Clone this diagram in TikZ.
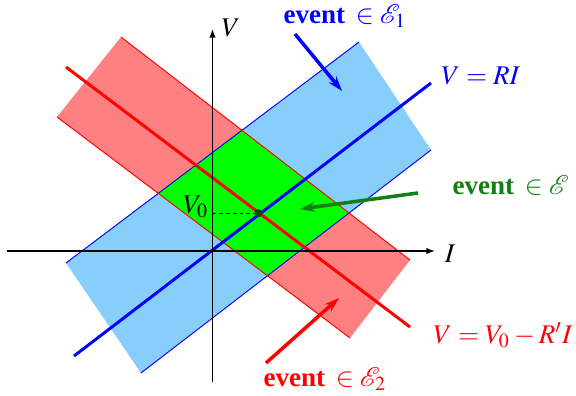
\documentclass[tikz,border=0pt]{standalone}
\usepackage{mathptmx}
\usepackage{mathrsfs}
\usepackage{fontspec}
\setmainfont{Liberation Serif}
\usetikzlibrary{arrows.meta}
\definecolor{skyb}{RGB}{135,206,250}
\definecolor{pinkr}{RGB}{255,128,128}
\definecolor{grn}{RGB}{0,255,0}
\definecolor{dgreen}{RGB}{16,128,16}
\definecolor{dotgreen}{RGB}{0,80,0}
\begin{document}
\begin{tikzpicture}[x=0.37pt,y=-0.37pt,
  bandedge/.style={line width=0.35pt},
  mainline/.style={line width=1.1pt},
  axisline/.style={line width=0.55pt,-{Latex[length=3.2pt,width=2.4pt]}},
  pointer/.style={line width=1.3pt,-{Stealth[length=5.5pt,width=3.6pt]}},
  lbl/.style={inner sep=0pt,anchor=base west,font=\fontsize{10}{12}\selectfont}]
\useasboundingbox (0,0) rectangle (576,396);
% band corners
\coordinate (B1) at (66,263);
\coordinate (B2) at (359,42);
\coordinate (B3) at (431,150);
\coordinate (B4) at (141,373);
\coordinate (R1) at (121,37);
\coordinate (R2) at (410,260);
\coordinate (R3) at (350,338);
\coordinate (R4) at (57,117);
% fills
\fill[skyb] (B1)--(B2)--(B3)--(B4)--cycle;
\fill[pinkr] (R1)--(R2)--(R3)--(R4)--cycle;
\begin{scope}
  \clip (R1)--(R2)--(R3)--(R4)--cycle;
  \fill[grn] (B1)--(B2)--(B3)--(B4)--cycle;
\end{scope}
\draw[blue,bandedge] (B1)--(B2) (B4)--(B3);
\draw[red,bandedge] (R4)--(R3) (R1)--(R2);
% lines
\coordinate (bl1) at (74,356);
\coordinate (bl2) at (431,83);
\coordinate (rl1) at (66,67);
\coordinate (rl2) at (410,327);
\draw[blue,mainline] (bl1)--(bl2);
\draw[red,mainline] (rl1)--(rl2);
% axes
\coordinate (xl) at (7,251);
\coordinate (xr) at (435,251);
\coordinate (yb) at (212.5,382);
\coordinate (yt) at (212.5,29);
\draw[axisline] (xl)--(xr);
\draw[axisline] (yb)--(yt);
\node[lbl,anchor=center] (Vax) at (231,27.5) {$V$};
\node[lbl,anchor=center] (Iax) at (450,254) {$I$};
% operating point
\coordinate (V0a) at (212.5,213.3);
\draw[line width=0.45pt,dash pattern=on 1.4pt off 1.1pt] (V0a)--(258.3,213.3);
\node[circle,fill=dotgreen,inner sep=0pt,minimum size=3pt] (P) at (258.3,213.3) {};
\node[lbl,anchor=base east] (V0) at (209,213.3) {$V_0$};
% labels
\node[lbl,text=blue] (E1) at (283,23.5) {\textbf{event}\hspace{4pt}$\in\mathscr{E}_1$};
\node[lbl,text=blue] (VRI) at (441,85) {$V=RI$};
\node[lbl,text=dgreen] (E0) at (452,195) {\textbf{event}\hspace{4pt}$\in\mathscr{E}$};
\node[lbl,text=red] (VR) at (433,343) {$V=V_0-R'I$};
\node[lbl,text=red] (E2) at (263,386) {\textbf{event}\hspace{4pt}$\in\mathscr{E}_2$};
% pointers
\coordinate (a1s) at (295,34);
\coordinate (a1e) at (342,91);
\coordinate (a2s) at (418,193);
\coordinate (a2e) at (300,209);
\coordinate (a3s) at (266,363);
\coordinate (a3e) at (339,298);
\draw[pointer,blue] (a1s)--(a1e);
\draw[pointer,dgreen] (a2s)--(a2e);
\draw[pointer,red] (a3s)--(a3e);
\end{tikzpicture}
\end{document}
